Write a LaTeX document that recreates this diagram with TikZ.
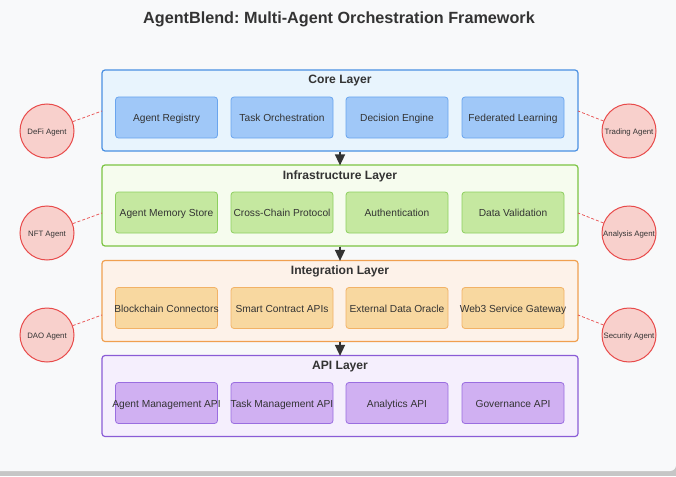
\documentclass[tikz,border=0pt]{standalone}
\usepackage{fontspec}
\setmainfont{Liberation Sans}
\usetikzlibrary{arrows.meta}
\frenchspacing
\definecolor{bgc}{HTML}{F8F9FA}
\definecolor{txt}{HTML}{333333}
\definecolor{coreF}{HTML}{E8F4FD}\definecolor{coreD}{HTML}{4A90E2}
\definecolor{coreB}{HTML}{A0C8F8}\definecolor{coreBD}{HTML}{6AA5EE}
\definecolor{infF}{HTML}{F6FCEE}\definecolor{infD}{HTML}{7CC443}
\definecolor{infB}{HTML}{C5E8A0}\definecolor{infBD}{HTML}{8DCF5F}
\definecolor{intF}{HTML}{FDF2E9}\definecolor{intD}{HTML}{F0A050}
\definecolor{intB}{HTML}{F8D8A0}\definecolor{intBD}{HTML}{F2B266}
\definecolor{apiF}{HTML}{F5EFFD}\definecolor{apiD}{HTML}{8A5CD6}
\definecolor{apiB}{HTML}{D0B0F2}\definecolor{apiBD}{HTML}{9A6EE0}
\definecolor{agF}{HTML}{F8D0CC}\definecolor{agD}{HTML}{E84A4A}
\newcommand{\ov}[1]{\makebox[0pt][c]{#1}}
\tikzset{
  layer/.style={draw=#1D, fill=#1F, line width=1.2pt, rounded corners=3pt, minimum width=476pt, minimum height=81pt, inner sep=0pt},
  comp/.style={draw=#1BD, fill=#1B, line width=0.8pt, rounded corners=3pt, minimum width=102pt, minimum height=41pt, inner sep=0pt, font=\fontsize{10.2}{12}\selectfont, text=txt, text height=8pt, text depth=0pt},
  ltitle/.style={font=\bfseries\fontsize{12.1}{14}\selectfont, text=txt, anchor=base, inner sep=0pt},
  agent/.style={circle, draw=agD, fill=agF, line width=1pt, minimum size=54pt, inner sep=0pt, font=\fontsize{7.8}{9}\selectfont, text=txt, text height=6pt, text depth=0pt},
  link/.style={draw=agD, dashed, dash pattern=on 3pt off 2pt, line width=0.7pt},
  flow/.style={-{Triangle[length=11pt,width=10pt]}, draw=txt, line width=1.5pt, fill=txt, shorten >=-1pt}
}
\begin{document}
\begin{tikzpicture}[x=1pt,y=-1pt]
\useasboundingbox (0,0) rectangle (676,476);
\fill[gray!45] (0,0) rectangle (676,476);
\begin{scope}
\clip (0,0) rectangle (676,476);
\fill[bgc, rounded corners=6pt] (-10,-10) rectangle (676,471);
\end{scope}
\node[font=\bfseries\fontsize{16.2}{18}\selectfont, text=txt, anchor=base, inner sep=0pt] (title) at (339,23.3) {AgentBlend: Multi-Agent Orchestration Framework};

% layers
\node[layer=core] (core) at (340,110.5) {};
\node[layer=inf] (inf) at (340,205.5) {};
\node[layer=int] (int) at (340,301) {};
\node[layer=api] (api) at (340,396) {};
\node[ltitle] (coreT) at (340,84) {Core Layer};
\node[ltitle] (infT) at (340,179) {Infrastructure Layer};
\node[ltitle] (intT) at (340,274.3) {Integration Layer};
\node[ltitle] (apiT) at (340,369) {API Layer};

% components
\node[comp=core] (c1) at (166.5,117.5) {\ov{Agent Registry}};
\node[comp=core] (c2) at (282,117.5) {\ov{Task Orchestration}};
\node[comp=core] (c3) at (397,117.5) {\ov{Decision Engine}};
\node[comp=core] (c4) at (513,117.5) {\ov{Federated Learning}};
\node[comp=inf] (i1) at (166.5,212.5) {\ov{Agent Memory Store}};
\node[comp=inf] (i2) at (282,212.5) {\ov{Cross-Chain Protocol}};
\node[comp=inf] (i3) at (397,212.5) {\ov{Authentication}};
\node[comp=inf] (i4) at (513,212.5) {\ov{Data Validation}};
\node[comp=int] (g1) at (166.5,308) {\ov{Blockchain Connectors}};
\node[comp=int] (g2) at (282,308) {\ov{Smart Contract APIs}};
\node[comp=int] (g3) at (397,308) {\ov{External Data Oracle}};
\node[comp=int] (g4) at (513,308) {\ov{Web3 Service Gateway}};
\node[comp=api] (a1) at (166.5,403) {\ov{Agent Management API}};
\node[comp=api] (a2) at (282,403) {\ov{Task Management API}};
\node[comp=api] (a3) at (397,403) {\ov{Analytics API}};
\node[comp=api] (a4) at (513,403) {\ov{Governance API}};

% flow arrows
\draw[flow] (core.south -| 340,0) -- (inf.north -| 340,0);
\draw[flow] (inf.south -| 340,0) -- (int.north -| 340,0);
\draw[flow] (int.south -| 340,0) -- (api.north -| 340,0);

% agents
\node[agent] (defi) at (47,131) {DeFi Agent};
\node[agent] (nft) at (47,233) {NFT Agent};
\node[agent] (dao) at (47,335) {DAO Agent};
\node[agent] (trade) at (629,131) {\ov{Trading Agent}};
\node[agent] (anal) at (629,233) {\ov{Analysis Agent}};
\node[agent] (sec) at (629,335) {\ov{Security Agent}};

\coordinate (cl) at (102,111); \coordinate (cr) at (578,111);
\coordinate (il) at (102,213); \coordinate (ir) at (578,213);
\coordinate (gl) at (102,315); \coordinate (gr) at (578,315);
\draw[link] (defi) -- (cl);
\draw[link] (nft) -- (il);
\draw[link] (dao) -- (gl);
\draw[link] (trade) -- (cr);
\draw[link] (anal) -- (ir);
\draw[link] (sec) -- (gr);
\end{tikzpicture}
\end{document}
